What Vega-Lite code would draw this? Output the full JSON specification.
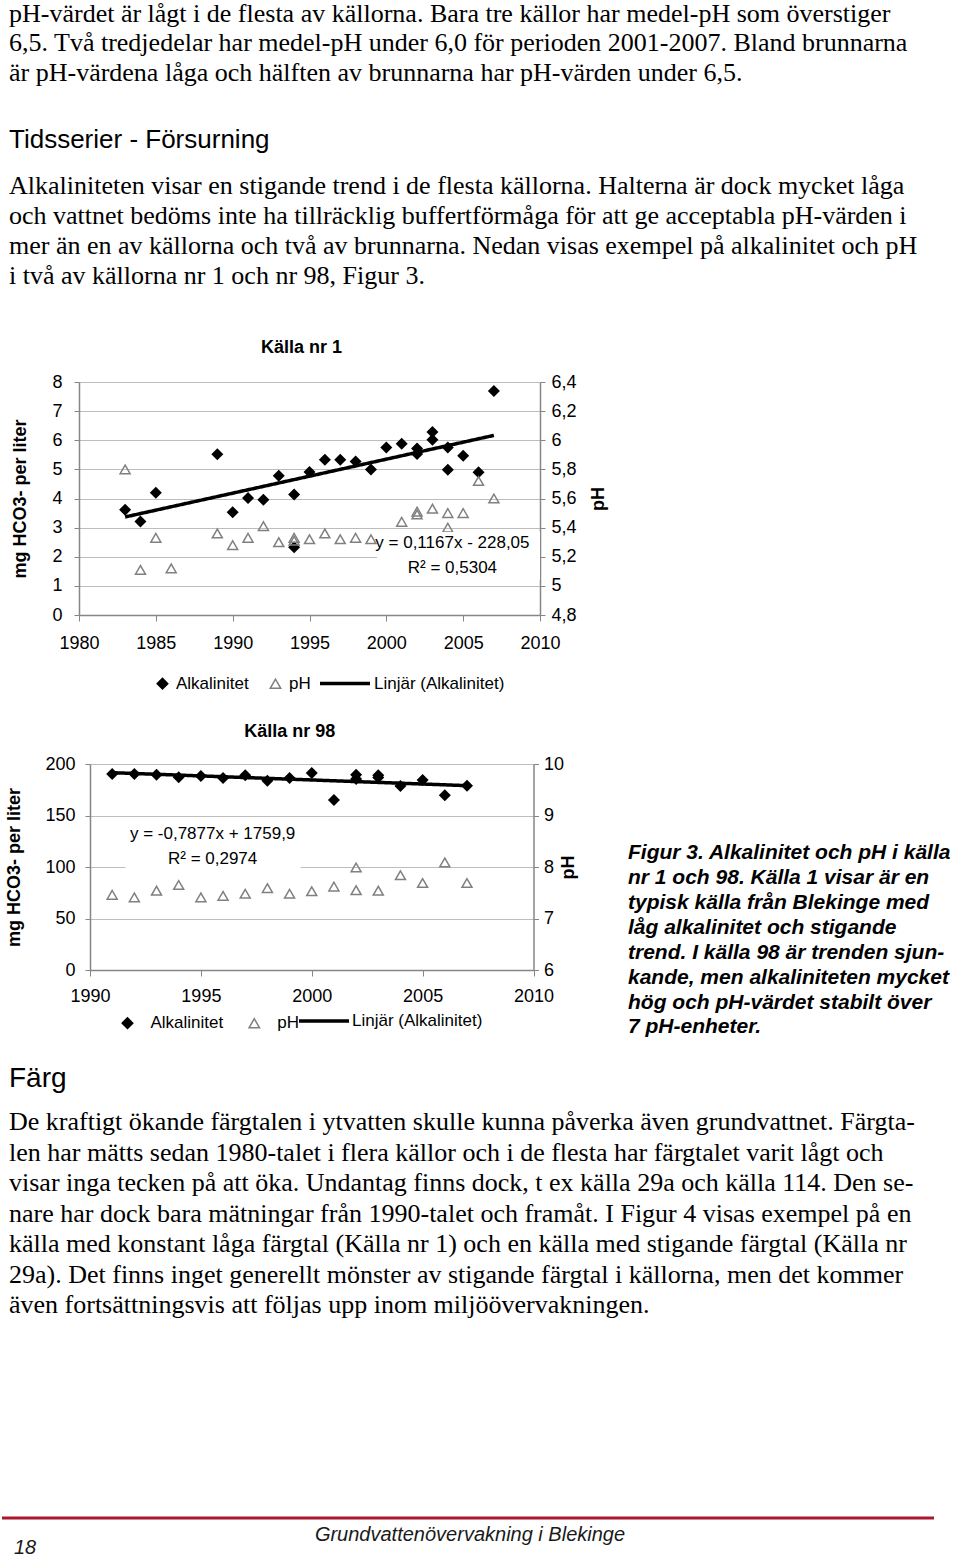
{
  "$schema": "https://vega.github.io/schema/vega-lite/v6.json",
  "padding": 0,
  "background": "white",
  "spacing": 0,
  "config": {"view": {"stroke": null}, "font": "Liberation Sans"},
  "resolve": {"scale": {"x": "independent", "y": "independent", "shape": "independent", "fill": "independent", "stroke": "independent", "strokeDash": "independent"}, "legend": {"shape": "independent", "fill": "independent", "stroke": "independent", "strokeDash": "independent"}},
  "datasets": {
    "p1": [
      {"i": 0, "t": "pH-värdet är lågt i de flesta av källorna. Bara tre källor har medel-pH som överstiger"},
      {"i": 1, "t": "6,5. Två tredjedelar har medel-pH under 6,0 för perioden 2001-2007. Bland brunnarna"},
      {"i": 2, "t": "är pH-värdena låga och hälften av brunnarna har pH-värden under 6,5."}
    ],
    "h1": [{"i": 0, "t": "Tidsserier - Försurning"}],
    "p2": [
      {"i": 0, "t": "Alkaliniteten visar en stigande trend i de flesta källorna. Halterna är dock mycket låga"},
      {"i": 1, "t": "och vattnet bedöms inte ha tillräcklig buffertförmåga för att ge acceptabla pH-värden i"},
      {"i": 2, "t": "mer än en av källorna och två av brunnarna. Nedan visas exempel på alkalinitet och pH"},
      {"i": 3, "t": "i två av källorna nr 1 och nr 98, Figur 3."}
    ],
    "cap": [
      {"i": 0, "t": "Figur 3. Alkalinitet och pH i källa"},
      {"i": 1, "t": "nr 1 och 98. Källa 1 visar är en"},
      {"i": 2, "t": "typisk källa från Blekinge med"},
      {"i": 3, "t": "låg alkalinitet och stigande"},
      {"i": 4, "t": "trend. I källa 98 är trenden sjun-"},
      {"i": 5, "t": "kande, men alkaliniteten mycket"},
      {"i": 6, "t": "hög och pH-värdet stabilt över"},
      {"i": 7, "t": "7 pH-enheter."}
    ],
    "h2": [{"i": 0, "t": "Färg"}],
    "p3": [
      {"i": 0, "t": "De kraftigt ökande färgtalen i ytvatten skulle kunna påverka även grundvattnet. Färgta-"},
      {"i": 1, "t": "len har mätts sedan 1980-talet i flera källor och i de flesta har färgtalet varit lågt och"},
      {"i": 2, "t": "visar inga tecken på att öka. Undantag finns dock, t ex källa 29a och källa 114. Den se-"},
      {"i": 3, "t": "nare har dock bara mätningar från 1990-talet och framåt. I Figur 4 visas exempel på en"},
      {"i": 4, "t": "källa med konstant låga färgtal (Källa nr 1) och en källa med stigande färgtal (Källa nr"},
      {"i": 5, "t": "29a). Det finns inget generellt mönster av stigande färgtal i källorna, men det kommer"},
      {"i": 6, "t": "även fortsättningsvis att följas upp inom miljöövervakningen."}
    ],
    "k1": [
      {"series": "Alkalinitet", "year": 1983, "value": 3.61},
      {"series": "Alkalinitet", "year": 1984, "value": 3.21},
      {"series": "Alkalinitet", "year": 1985, "value": 4.2},
      {"series": "Alkalinitet", "year": 1989, "value": 5.52},
      {"series": "Alkalinitet", "year": 1990, "value": 3.53},
      {"series": "Alkalinitet", "year": 1991, "value": 4.02},
      {"series": "Alkalinitet", "year": 1992, "value": 3.96},
      {"series": "Alkalinitet", "year": 1993, "value": 4.78},
      {"series": "Alkalinitet", "year": 1994, "value": 4.14},
      {"series": "Alkalinitet", "year": 1994, "value": 2.33},
      {"series": "Alkalinitet", "year": 1995, "value": 4.91},
      {"series": "Alkalinitet", "year": 1996, "value": 5.33},
      {"series": "Alkalinitet", "year": 1997, "value": 5.33},
      {"series": "Alkalinitet", "year": 1998, "value": 5.27},
      {"series": "Alkalinitet", "year": 1999, "value": 5.0},
      {"series": "Alkalinitet", "year": 2000, "value": 5.75},
      {"series": "Alkalinitet", "year": 2001, "value": 5.88},
      {"series": "Alkalinitet", "year": 2002, "value": 5.72},
      {"series": "Alkalinitet", "year": 2002, "value": 5.53},
      {"series": "Alkalinitet", "year": 2003, "value": 6.28},
      {"series": "Alkalinitet", "year": 2003, "value": 6.02},
      {"series": "Alkalinitet", "year": 2004, "value": 5.75},
      {"series": "Alkalinitet", "year": 2004, "value": 4.99},
      {"series": "Alkalinitet", "year": 2005, "value": 5.47},
      {"series": "Alkalinitet", "year": 2006, "value": 4.9},
      {"series": "Alkalinitet", "year": 2007, "value": 7.69},
      {"series": "pH", "year": 1983, "value": 5.8},
      {"series": "pH", "year": 1984, "value": 5.11},
      {"series": "pH", "year": 1985, "value": 5.33},
      {"series": "pH", "year": 1986, "value": 5.12},
      {"series": "pH", "year": 1989, "value": 5.36},
      {"series": "pH", "year": 1990, "value": 5.28},
      {"series": "pH", "year": 1991, "value": 5.33},
      {"series": "pH", "year": 1992, "value": 5.41},
      {"series": "pH", "year": 1993, "value": 5.3},
      {"series": "pH", "year": 1994, "value": 5.33},
      {"series": "pH", "year": 1994, "value": 5.31},
      {"series": "pH", "year": 1995, "value": 5.32},
      {"series": "pH", "year": 1996, "value": 5.36},
      {"series": "pH", "year": 1997, "value": 5.32},
      {"series": "pH", "year": 1998, "value": 5.33},
      {"series": "pH", "year": 1999, "value": 5.32},
      {"series": "pH", "year": 2001, "value": 5.44},
      {"series": "pH", "year": 2002, "value": 5.51},
      {"series": "pH", "year": 2002, "value": 5.49},
      {"series": "pH", "year": 2003, "value": 5.53},
      {"series": "pH", "year": 2004, "value": 5.5},
      {"series": "pH", "year": 2004, "value": 5.4},
      {"series": "pH", "year": 2005, "value": 5.5},
      {"series": "pH", "year": 2006, "value": 5.72},
      {"series": "pH", "year": 2007, "value": 5.6},
      {"series": "Linjär (Alkalinitet)", "year": 1983, "value": 3.366},
      {"series": "Linjär (Alkalinitet)", "year": 2007, "value": 6.167}
    ],
    "k98": [
      {"series": "Alkalinitet", "year": 1991, "value": 190.3},
      {"series": "Alkalinitet", "year": 1992, "value": 190.3},
      {"series": "Alkalinitet", "year": 1993, "value": 189.6},
      {"series": "Alkalinitet", "year": 1994, "value": 187.1},
      {"series": "Alkalinitet", "year": 1995, "value": 188.3},
      {"series": "Alkalinitet", "year": 1996, "value": 186.4},
      {"series": "Alkalinitet", "year": 1997, "value": 189.0},
      {"series": "Alkalinitet", "year": 1998, "value": 183.8},
      {"series": "Alkalinitet", "year": 1999, "value": 186.4},
      {"series": "Alkalinitet", "year": 2000, "value": 191.3},
      {"series": "Alkalinitet", "year": 2001, "value": 165.0},
      {"series": "Alkalinitet", "year": 2002, "value": 189.6},
      {"series": "Alkalinitet", "year": 2002, "value": 185.4},
      {"series": "Alkalinitet", "year": 2003, "value": 189.0},
      {"series": "Alkalinitet", "year": 2003, "value": 187.0},
      {"series": "Alkalinitet", "year": 2004, "value": 178.6},
      {"series": "Alkalinitet", "year": 2005, "value": 184.5},
      {"series": "Alkalinitet", "year": 2006, "value": 169.6},
      {"series": "Alkalinitet", "year": 2007, "value": 179.0},
      {"series": "pH", "year": 1991, "value": 7.46},
      {"series": "pH", "year": 1992, "value": 7.41},
      {"series": "pH", "year": 1993, "value": 7.54},
      {"series": "pH", "year": 1994, "value": 7.65},
      {"series": "pH", "year": 1995, "value": 7.41},
      {"series": "pH", "year": 1996, "value": 7.44},
      {"series": "pH", "year": 1997, "value": 7.48},
      {"series": "pH", "year": 1998, "value": 7.59},
      {"series": "pH", "year": 1999, "value": 7.48},
      {"series": "pH", "year": 2000, "value": 7.53},
      {"series": "pH", "year": 2001, "value": 7.62},
      {"series": "pH", "year": 2002, "value": 7.99},
      {"series": "pH", "year": 2002, "value": 7.55},
      {"series": "pH", "year": 2003, "value": 7.54},
      {"series": "pH", "year": 2004, "value": 7.84},
      {"series": "pH", "year": 2005, "value": 7.69},
      {"series": "pH", "year": 2006, "value": 8.09},
      {"series": "pH", "year": 2007, "value": 7.69},
      {"series": "Linjär (Alkalinitet)", "year": 1991, "value": 191.58},
      {"series": "Linjär (Alkalinitet)", "year": 2007, "value": 178.99}
    ]
  },
  "vconcat": [
    {
      "width": 960, "height": 88.5,
      "data": {"name": "p1"},
      "mark": {"type": "text", "align": "left", "baseline": "middle", "font": "Liberation Serif", "fontSize": 26, "dx": 7, "dy": -3, "color": "black"},
      "encoding": {
        "x": {"datum": 0, "type": "quantitative", "scale": {"domain": [0, 1]}, "axis": null},
        "y": {"field": "i", "type": "ordinal", "scale": {"type": "point", "padding": 0.5}, "axis": null},
        "text": {"field": "t"}
      }
    },
    {
      "width": 960, "height": 80,
      "data": {"name": "h1"},
      "mark": {"type": "text", "align": "left", "baseline": "middle", "font": "Liberation Sans", "fontSize": 26, "dx": 7, "dy": 8.5, "color": "black"},
      "encoding": {
        "x": {"datum": 0, "type": "quantitative", "scale": {"domain": [0, 1]}, "axis": null},
        "y": {"field": "i", "type": "ordinal", "scale": {"type": "point", "padding": 0.5}, "axis": null},
        "text": {"field": "t"}
      }
    },
    {
      "width": 960, "height": 120,
      "data": {"name": "p2"},
      "mark": {"type": "text", "align": "left", "baseline": "middle", "font": "Liberation Serif", "fontSize": 26, "dx": 7, "dy": 0, "color": "black"},
      "encoding": {
        "x": {"datum": 0, "type": "quantitative", "scale": {"domain": [0, 1]}, "axis": null},
        "y": {"field": "i", "type": "ordinal", "scale": {"type": "point", "padding": 0.5}, "axis": null},
        "text": {"field": "t"}
      }
    },
    {
      "width": 960, "height": 46.5,
      "data": {"values": [{}]},
      "mark": {"type": "text", "text": ""},
      "encoding": {}
    },
    {
      "spacing": 0,
      "bounds": "flush",
      "resolve": {"scale": {"x": "independent", "y": "independent", "shape": "independent", "fill": "independent", "stroke": "independent", "strokeDash": "independent"}, "legend": {"shape": "independent", "fill": "independent", "stroke": "independent", "strokeDash": "independent"}},
      "hconcat": [
        {
          "width": 76.5, "height": 340.5,
          "data": {"values": [{}]},
          "mark": {"type": "text", "text": ""},
          "encoding": {}
        },
        {
          "width": 461, "height": 233,
          "title": {"text": "Källa nr 1", "font": "Liberation Sans", "fontSize": 18, "fontWeight": "bold", "color": "black", "anchor": "middle", "frame": "group", "dx": -8, "offset": 16.5},
          "data": {"name": "k1"},
          "layer": [
            {
              "transform": [{"filter": "datum.series === 'Alkalinitet'"}],
              "mark": {"type": "point", "size": 144, "strokeWidth": 0, "opacity": 1},
              "encoding": {
                "x": {"field": "year", "type": "quantitative", "scale": {"domain": [1980, 2010], "nice": false, "zero": false},
                  "axis": {"values": [1980, 1985, 1990, 1995, 2000, 2005, 2010], "format": "d", "title": null, "grid": false, "domainColor": "#868686", "domainWidth": 1.5, "tickColor": "#868686", "tickSize": 6, "labelFont": "Liberation Sans", "labelFontSize": 18, "labelColor": "black", "labelPadding": 13, "labelFlush": false, "labelOverlap": false, "labelBound": false}},
                "y": {"field": "value", "type": "quantitative", "scale": {"domain": [0, 8], "nice": false, "zero": false},
                  "axis": {"orient": "left", "title": "mg HCO3- per liter", "values": [0, 1, 2, 3, 4, 5, 6, 7, 8], "grid": true, "gridColor": "#bdbdbd", "gridWidth": 1, "domainColor": "#868686", "domainWidth": 1.5, "tickColor": "#868686", "tickSize": 5, "labelFont": "Liberation Sans", "labelFontSize": 18, "labelColor": "black", "labelPadding": 12, "titleFont": "Liberation Sans", "titleFontSize": 18, "titleFontWeight": "bold", "titleColor": "black", "titlePadding": 22, "labelOverlap": false, "labelBound": false, "labelFlush": false}},
                "shape": {"field": "series", "type": "nominal", "scale": {"domain": ["Alkalinitet", "pH"], "range": ["diamond", "triangle-up"]},
                  "legend": {"title": null, "orient": "none", "legendX": 75, "legendY": 293, "direction": "horizontal", "padding": 0, "labelFont": "Liberation Sans", "labelFontSize": 17, "labelColor": "black", "labelOffset": 5, "columnPadding": 18, "symbolOffset": 0, "symbolSize": 110, "symbolStrokeWidth": 1.5}},
                "fill": {"field": "series", "type": "nominal", "scale": {"domain": ["Alkalinitet", "pH"], "range": ["black", "transparent"]},
                  "legend": {"title": null, "orient": "none", "legendX": 75, "legendY": 293, "direction": "horizontal", "padding": 0, "labelFont": "Liberation Sans", "labelFontSize": 17, "labelColor": "black", "labelOffset": 5, "columnPadding": 18, "symbolOffset": 0, "symbolSize": 110, "symbolStrokeWidth": 1.5}},
                "stroke": {"field": "series", "type": "nominal", "scale": {"domain": ["Alkalinitet", "pH"], "range": ["black", "#808080"]},
                  "legend": {"title": null, "orient": "none", "legendX": 75, "legendY": 293, "direction": "horizontal", "padding": 0, "labelFont": "Liberation Sans", "labelFontSize": 17, "labelColor": "black", "labelOffset": 5, "columnPadding": 18, "symbolOffset": 0, "symbolSize": 110, "symbolStrokeWidth": 1.5}}
              }
            },
            {
              "transform": [{"filter": "datum.series === 'pH'"}],
              "mark": {"type": "point", "size": 100, "strokeWidth": 1.5, "opacity": 1},
              "encoding": {
                "x": {"field": "year", "type": "quantitative", "scale": {"domain": [1980, 2010], "nice": false, "zero": false}},
                "y": {"field": "value", "type": "quantitative", "scale": {"domain": [4.8, 6.4], "nice": false, "zero": false},
                  "axis": {"orient": "right", "title": "pH", "titleAngle": 270, "titleBaseline": "top", "values": [4.8, 5, 5.2, 5.4, 5.6, 5.8, 6, 6.2, 6.4], "format": "~g", "labelExpr": "replace(datum.label, '.', ',')", "grid": false, "domainColor": "#868686", "domainWidth": 1.5, "tickColor": "#868686", "tickSize": 5, "labelFont": "Liberation Sans", "labelFontSize": 18, "labelColor": "black", "labelPadding": 6, "titleFont": "Liberation Sans", "titleFontSize": 18, "titleFontWeight": "bold", "titleColor": "black", "titlePadding": 13, "labelOverlap": false, "labelBound": false, "labelFlush": false}},
                "shape": {"field": "series", "type": "nominal", "legend": null},
                "fill": {"field": "series", "type": "nominal", "legend": null},
                "stroke": {"field": "series", "type": "nominal", "legend": null}
              }
            },
            {
              "transform": [{"filter": "datum.series === 'Linjär (Alkalinitet)'"}],
              "mark": {"type": "line", "strokeWidth": 3.5, "color": "black"},
              "encoding": {
                "x": {"field": "year", "type": "quantitative", "scale": {"domain": [1980, 2010], "nice": false, "zero": false}},
                "y": {"field": "value", "type": "quantitative", "scale": {"domain": [0, 8], "nice": false, "zero": false}, "axis": null},
                "strokeDash": {"field": "series", "type": "nominal", "scale": {"domain": ["Linjär (Alkalinitet)"], "range": [[1, 0]]},
                  "legend": {"title": null, "orient": "none", "legendX": 239, "legendY": 274.5, "direction": "horizontal", "padding": 0, "labelFont": "Liberation Sans", "labelFontSize": 17, "labelColor": "black", "labelOffset": 2, "symbolOffset": 0, "symbolType": "stroke", "symbolSize": 2500, "symbolStrokeWidth": 3.5, "symbolStrokeColor": "black"}}
              }
            },
            {
              "data": {"values": [{}]},
              "mark": {"type": "rect", "fill": "white", "opacity": 1},
              "encoding": {
                "x": {"datum": 1999.4, "type": "quantitative", "scale": {"domain": [1980, 2010], "nice": false, "zero": false}},
                "x2": {"datum": 2010},
                "y": {"datum": 1.2, "type": "quantitative", "scale": {"domain": [0, 8], "nice": false, "zero": false}, "axis": null},
                "y2": {"datum": 2.85}
              }
            },
            {
              "data": {"values": [{}]},
              "mark": {"type": "text", "text": ["y = 0,1167x - 228,05", "R² = 0,5304"], "lineHeight": 25, "font": "Liberation Sans", "fontSize": 17, "align": "center", "baseline": "middle", "color": "black"},
              "encoding": {
                "x": {"datum": 2004.3, "type": "quantitative", "scale": {"domain": [1980, 2010], "nice": false, "zero": false}},
                "y": {"datum": 2.455, "type": "quantitative", "scale": {"domain": [0, 8], "nice": false, "zero": false}, "axis": null}
              }
            }
          ],
          "resolve": {"scale": {"y": "independent"}}
        }
      ]
    },
    {
      "spacing": 0,
      "bounds": "flush",
      "resolve": {"scale": {"x": "independent", "y": "independent", "shape": "independent", "fill": "independent", "stroke": "independent", "strokeDash": "independent"}, "legend": {"shape": "independent", "fill": "independent", "stroke": "independent", "strokeDash": "independent"}},
      "hconcat": [
        {
          "width": 87.5, "height": 290,
          "data": {"values": [{}]},
          "mark": {"type": "text", "text": ""},
          "encoding": {}
        },
        {
          "width": 443.5, "height": 206,
          "title": {"text": "Källa nr 98", "font": "Liberation Sans", "fontSize": 18, "fontWeight": "bold", "color": "black", "anchor": "middle", "frame": "group", "dx": -22, "offset": 14},
          "data": {"name": "k98"},
          "layer": [
            {
              "transform": [{"filter": "datum.series === 'Alkalinitet'"}],
              "mark": {"type": "point", "size": 144, "strokeWidth": 0, "opacity": 1},
              "encoding": {
                "x": {"field": "year", "type": "quantitative", "scale": {"domain": [1990, 2010], "nice": false, "zero": false},
                  "axis": {"values": [1990, 1995, 2000, 2005, 2010], "format": "d", "title": null, "grid": false, "domainColor": "#868686", "domainWidth": 1.5, "tickColor": "#868686", "tickSize": 6, "labelFont": "Liberation Sans", "labelFontSize": 18, "labelColor": "black", "labelPadding": 11, "labelFlush": false, "labelOverlap": false, "labelBound": false}},
                "y": {"field": "value", "type": "quantitative", "scale": {"domain": [0, 200], "nice": false, "zero": false},
                  "axis": {"orient": "left", "title": "mg HCO3- per liter", "values": [0, 50, 100, 150, 200], "grid": true, "gridColor": "#bdbdbd", "gridWidth": 1, "domainColor": "#868686", "domainWidth": 1.5, "tickColor": "#868686", "tickSize": 5, "labelFont": "Liberation Sans", "labelFontSize": 18, "labelColor": "black", "labelPadding": 10, "titleFont": "Liberation Sans", "titleFontSize": 18, "titleFontWeight": "bold", "titleColor": "black", "titlePadding": 21, "labelOverlap": false, "labelBound": false, "labelFlush": false}},
                "shape": {"field": "series", "type": "nominal", "scale": {"domain": ["Alkalinitet", "pH"], "range": ["diamond", "triangle-up"]},
                  "legend": {"title": null, "orient": "none", "legendX": 29, "legendY": 250.5, "direction": "horizontal", "padding": 0, "labelFont": "Liberation Sans", "labelFontSize": 17, "labelColor": "black", "labelOffset": 14.5, "columnPadding": 21.8, "symbolOffset": 0, "symbolSize": 110, "symbolStrokeWidth": 1.5}},
                "fill": {"field": "series", "type": "nominal", "scale": {"domain": ["Alkalinitet", "pH"], "range": ["black", "transparent"]},
                  "legend": {"title": null, "orient": "none", "legendX": 29, "legendY": 250.5, "direction": "horizontal", "padding": 0, "labelFont": "Liberation Sans", "labelFontSize": 17, "labelColor": "black", "labelOffset": 14.5, "columnPadding": 21.8, "symbolOffset": 0, "symbolSize": 110, "symbolStrokeWidth": 1.5}},
                "stroke": {"field": "series", "type": "nominal", "scale": {"domain": ["Alkalinitet", "pH"], "range": ["black", "#808080"]},
                  "legend": {"title": null, "orient": "none", "legendX": 29, "legendY": 250.5, "direction": "horizontal", "padding": 0, "labelFont": "Liberation Sans", "labelFontSize": 17, "labelColor": "black", "labelOffset": 14.5, "columnPadding": 21.8, "symbolOffset": 0, "symbolSize": 110, "symbolStrokeWidth": 1.5}}
              }
            },
            {
              "transform": [{"filter": "datum.series === 'pH'"}],
              "mark": {"type": "point", "size": 100, "strokeWidth": 1.5, "opacity": 1},
              "encoding": {
                "x": {"field": "year", "type": "quantitative", "scale": {"domain": [1990, 2010], "nice": false, "zero": false}},
                "y": {"field": "value", "type": "quantitative", "scale": {"domain": [6, 10], "nice": false, "zero": false},
                  "axis": {"orient": "right", "title": "pH", "titleAngle": 270, "titleBaseline": "top", "values": [6, 7, 8, 9, 10], "format": "d", "grid": false, "domainColor": "#868686", "domainWidth": 1.5, "tickColor": "#868686", "tickSize": 5, "labelFont": "Liberation Sans", "labelFontSize": 18, "labelColor": "black", "labelPadding": 5, "titleFont": "Liberation Sans", "titleFontSize": 18, "titleFontWeight": "bold", "titleColor": "black", "titlePadding": -4, "labelOverlap": false, "labelBound": false, "labelFlush": false}},
                "shape": {"field": "series", "type": "nominal", "legend": null},
                "fill": {"field": "series", "type": "nominal", "legend": null},
                "stroke": {"field": "series", "type": "nominal", "legend": null}
              }
            },
            {
              "transform": [{"filter": "datum.series === 'Linjär (Alkalinitet)'"}],
              "mark": {"type": "line", "strokeWidth": 3.5, "color": "black"},
              "encoding": {
                "x": {"field": "year", "type": "quantitative", "scale": {"domain": [1990, 2010], "nice": false, "zero": false}},
                "y": {"field": "value", "type": "quantitative", "scale": {"domain": [0, 200], "nice": false, "zero": false}, "axis": null},
                "strokeDash": {"field": "series", "type": "nominal", "scale": {"domain": ["Linjär (Alkalinitet)"], "range": [[1, 0]]},
                  "legend": {"title": null, "orient": "none", "legendX": 207, "legendY": 230, "direction": "horizontal", "padding": 0, "labelFont": "Liberation Sans", "labelFontSize": 17, "labelColor": "black", "labelOffset": 1, "symbolOffset": 0, "symbolType": "stroke", "symbolSize": 2500, "symbolStrokeWidth": 3.5, "symbolStrokeColor": "black"}}
              }
            },
            {
              "data": {"values": [{}]},
              "mark": {"type": "rect", "fill": "white", "opacity": 1},
              "encoding": {
                "x": {"datum": 1991.6, "type": "quantitative", "scale": {"domain": [1990, 2010], "nice": false, "zero": false}},
                "x2": {"datum": 1999.5},
                "y": {"datum": 96, "type": "quantitative", "scale": {"domain": [0, 200], "nice": false, "zero": false}, "axis": null},
                "y2": {"datum": 144}
              }
            },
            {
              "data": {"values": [{}]},
              "mark": {"type": "text", "text": ["y = -0,7877x + 1759,9", "R² = 0,2974"], "lineHeight": 25, "font": "Liberation Sans", "fontSize": 17, "align": "center", "baseline": "middle", "color": "black"},
              "encoding": {
                "x": {"datum": 1995.53, "type": "quantitative", "scale": {"domain": [1990, 2010], "nice": false, "zero": false}},
                "y": {"datum": 132, "type": "quantitative", "scale": {"domain": [0, 200], "nice": false, "zero": false}, "axis": null}
              }
            }
          ],
          "resolve": {"scale": {"y": "independent"}}
        },
        {
          "width": 428, "height": 198.9,
          "data": {"name": "cap"},
          "mark": {"type": "text", "align": "left", "baseline": "middle", "font": "Liberation Sans", "fontSize": 21, "fontWeight": "bold", "fontStyle": "italic", "dx": 94, "dy": 77, "color": "black"},
          "encoding": {
            "x": {"datum": 0, "type": "quantitative", "scale": {"domain": [0, 1]}, "axis": null},
            "y": {"field": "i", "type": "ordinal", "scale": {"type": "point", "padding": 0.5}, "axis": null},
            "text": {"field": "t"}
          }
        }
      ]
    },
    {
      "width": 960, "height": 53,
      "data": {"name": "h2"},
      "mark": {"type": "text", "align": "left", "baseline": "middle", "font": "Liberation Sans", "fontSize": 28, "dx": 7, "dy": -1.5, "color": "black"},
      "encoding": {
        "x": {"datum": 0, "type": "quantitative", "scale": {"domain": [0, 1]}, "axis": null},
        "y": {"field": "i", "type": "ordinal", "scale": {"type": "point", "padding": 0.5}, "axis": null},
        "text": {"field": "t"}
      }
    },
    {
      "width": 960, "height": 213.5,
      "data": {"name": "p3"},
      "mark": {"type": "text", "align": "left", "baseline": "middle", "font": "Liberation Serif", "fontSize": 26, "dx": 7, "dy": 0, "color": "black"},
      "encoding": {
        "x": {"datum": 0, "type": "quantitative", "scale": {"domain": [0, 1]}, "axis": null},
        "y": {"field": "i", "type": "ordinal", "scale": {"type": "point", "padding": 0.5}, "axis": null},
        "text": {"field": "t"}
      }
    },
    {
      "width": 960, "height": 195,
      "data": {"values": [{}]},
      "mark": {"type": "text", "text": ""},
      "encoding": {}
    },
    {
      "width": 932, "height": 40,
      "data": {"values": [{}]},
      "layer": [
        {
          "mark": {"type": "rule", "color": "#a8192e", "strokeWidth": 3},
          "encoding": {
            "x": {"datum": 0, "type": "quantitative", "scale": {"domain": [0, 1]}, "axis": null},
            "x2": {"datum": 1},
            "y": {"datum": 1, "type": "quantitative", "scale": {"domain": [0, 1]}, "axis": null}
          }
        },
        {
          "mark": {"type": "text", "text": "Grundvattenövervakning i Blekinge", "font": "Liberation Sans", "fontSize": 20, "fontStyle": "italic", "align": "center", "baseline": "middle", "dy": -3, "dx": 2, "color": "#1a1a1a"},
          "encoding": {
            "x": {"datum": 0.5, "type": "quantitative", "scale": {"domain": [0, 1]}, "axis": null},
            "y": {"datum": 0.5, "type": "quantitative", "scale": {"domain": [0, 1]}, "axis": null}
          }
        },
        {
          "mark": {"type": "text", "text": "18", "font": "Liberation Sans", "fontSize": 20, "fontStyle": "italic", "align": "left", "baseline": "middle", "dy": 10, "dx": 12, "color": "#1a1a1a"},
          "encoding": {
            "x": {"datum": 0, "type": "quantitative", "scale": {"domain": [0, 1]}, "axis": null},
            "y": {"datum": 0.5, "type": "quantitative", "scale": {"domain": [0, 1]}, "axis": null}
          }
        }
      ]
    }
  ]
}
